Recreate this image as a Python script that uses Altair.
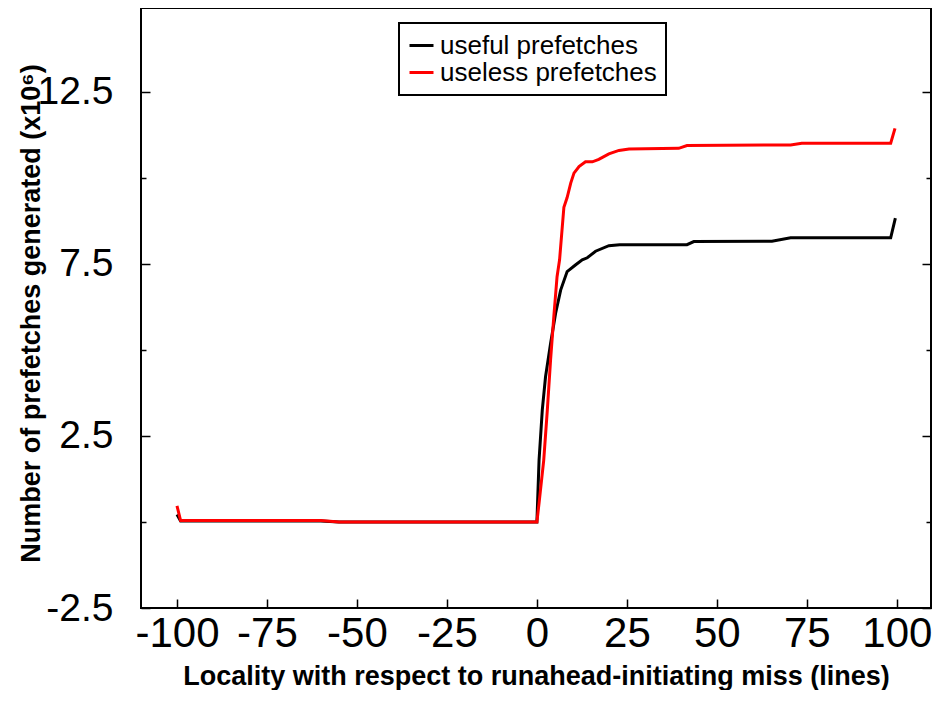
import altair as alt
import pandas as pd

# ---- data ----
useful_x = [-100, -99, -60, -55, 0, 0.6, 1.5, 2.4, 3.8, 5.2, 6.6, 8.4, 10.7, 12.6,
            14, 16.3, 20, 23, 41.7, 43.6, 65.3, 70.5, 98.3, 99.6]
useful_y = [0.22, 0.03, 0.03, 0.0, 0.0, 1.8, 3.26, 4.22, 5.19, 6.07, 6.74, 7.28, 7.47, 7.62,
            7.68, 7.87, 8.03, 8.06, 8.06, 8.15, 8.16, 8.26, 8.26, 8.83]

useless_x = [-100, -99, -60, -55, 0, 0.6, 1.9, 2.9, 3.8, 4.7, 5.6, 6.3, 7.5, 8.4, 9.4,
             10.3, 11.7, 13.5, 15.4, 17.2, 20, 22.8, 25.6, 39.4, 41.7, 70.5, 73.6, 98.3, 99.5]
useless_y = [0.47, 0.04, 0.04, 0.0, 0.0, 0.55, 1.8, 3.26, 4.71, 5.97, 7.13, 7.62, 9.15, 9.43, 9.85,
             10.14, 10.33, 10.47, 10.47, 10.54, 10.70, 10.80, 10.84, 10.86, 10.94, 10.96, 11.01, 11.01, 11.44]

series_names = ["useful prefetches", "useless prefetches"]
series_colors = ["#000000", "#ff0000"]

x_ticks = [-100, -75, -50, -25, 0, 25, 50, 75, 100]
y_major = [-2.5, 2.5, 7.5, 12.5]
y_minor = [0, 5, 10]

x_title = "Locality with respect to runahead-initiating miss (lines)"
y_title = "Number of prefetches generated (x10\u2076)"

df = pd.concat([
    pd.DataFrame({"x": useful_x, "y": useful_y, "series": series_names[0]}),
    pd.DataFrame({"x": useless_x, "y": useless_y, "series": series_names[1]}),
], ignore_index=True)

W, H = 790, 600
xs = alt.Scale(domain=[-110, 109.5], nice=False, zero=False)
ys = alt.Scale(domain=[-2.5, 14.94], nice=False, zero=False)
plain_label = "'' + datum.value"

base = alt.Chart(df)

lines = base.mark_line(strokeWidth=3, clip=True).encode(
    x=alt.X("x:Q", scale=xs, axis=alt.Axis(
        values=x_ticks, title=x_title, ticks=False, tickSize=0, domain=False, grid=False,
        labelExpr=plain_label,
        labelFont="Liberation Sans", labelFontSize=42, labelPadding=5, labelColor="black",
        labelFlush=False,
        titleFont="Liberation Sans", titleFontSize=27, titleFontWeight="bold",
        titleColor="black", titleY=55)),
    y=alt.Y("y:Q", scale=ys, axis=alt.Axis(
        values=y_major, title=y_title, ticks=False, tickSize=0, domain=False, grid=False,
        labelExpr=plain_label,
        labelFont="Liberation Sans", labelFontSize=39, labelPadding=28, labelColor="black",
        labelFlush=False,
        titleFont="Liberation Sans", titleFontSize=27, titleFontWeight="bold",
        titleColor="black", titleX=-96, titleY=305)),
    color=alt.Color("series:N", scale=alt.Scale(domain=series_names, range=series_colors),
                    legend=alt.Legend(
                        title=None, orient="none", legendX=258, legendY=15,
                        symbolType="stroke", symbolSize=576, symbolStrokeWidth=3,
                        labelFont="Liberation Sans", labelFontSize=26, labelColor="black",
                        labelOffset=5, labelLimit=500, rowPadding=-8, padding=9,
                        strokeColor="black", fillColor="white")),
)


def tick_layer(xaxis, yaxis):
    return base.mark_line(opacity=0).encode(
        x=alt.X("x:Q", scale=xs, axis=xaxis),
        y=alt.Y("y:Q", scale=ys, axis=yaxis),
        detail="series:N",
    )


def yticks(orient, vals, size):
    return alt.Axis(orient=orient, offset=-W, values=vals, labels=False, title=None,
                    tickSize=size, tickWidth=1.5, tickColor="black", domain=False, grid=False)


xticks_axis = alt.Axis(orient="top", offset=-H, values=x_ticks, labels=False, title=None,
                       tickSize=9, tickWidth=1.5, tickColor="black", domain=False, grid=False)

layers = [
    lines,
    tick_layer(xticks_axis, yticks("right", y_major, 9)),
    tick_layer(None, yticks("right", y_minor, 5)),
    tick_layer(None, yticks("left", y_major, 9)),
    tick_layer(None, yticks("left", y_minor, 5)),
]

chart = alt.layer(*layers).resolve_axis(x="independent", y="independent").properties(
    width=W, height=H,
    autosize=alt.AutoSizeParams(type="none"),
    padding={"left": 133, "top": 0, "right": 1, "bottom": 82},
).configure_view(stroke="black", strokeWidth=2).configure_legend(strokeWidth=2)

chart.save("out.html", embed_options={"renderer": "svg", "actions": False})
